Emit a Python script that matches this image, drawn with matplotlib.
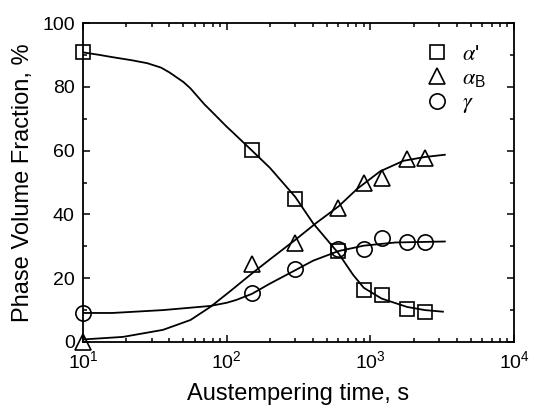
import matplotlib
matplotlib.use('Agg')
import matplotlib.pyplot as plt
from matplotlib.ticker import LogLocator, MultipleLocator
from matplotlib.font_manager import FontProperties

plt.rcParams['font.family'] = ['Liberation Sans', 'DejaVu Sans']
plt.rcParams['mathtext.fontset'] = 'custom'
plt.rcParams['mathtext.rm'] = 'Liberation Sans'

# measured points (time in s, volume fraction in %)
t_pts = [10, 150, 300, 600, 900, 1200, 1800, 2400]
mart_pts = [90.8, 60.2, 44.8, 28.4, 16.4, 14.8, 10.4, 9.5]
bain_pts = [0.0, 24.3, 31.0, 42.0, 50.0, 51.5, 57.4, 57.7]
aust_pts = [9.2, 15.3, 23.0, 29.0, 29.3, 32.5, 31.2, 31.2]

# fitted curves
t_mart = [10, 13, 16, 22, 28, 35, 40, 50, 56, 70, 80, 100, 111, 150, 200, 300,
          400, 600, 760, 900, 1200, 1800, 2400, 3200]
y_mart = [90.8, 90.0, 89.3, 88.3, 87.4, 86.0, 84.5, 81.5, 79.5, 74.5, 71.9, 67.5,
          65.6, 60.0, 54.6, 45.5, 37.2, 27.8, 21.0, 17.0, 13.6, 11.0, 10.0, 9.5]
t_bain = [10, 19, 36, 56, 77, 105, 150, 200, 300, 417, 600, 810, 1170, 1700, 2400, 3300]
y_bain = [0.8, 1.6, 3.8, 6.9, 11.0, 15.8, 21.5, 25.9, 32.0, 37.2, 42.5, 48.0,
          53.5, 56.8, 58.0, 58.7]
t_aust = [10, 16, 36, 77, 100, 117, 150, 200, 300, 400, 600, 900, 1500, 3300]
y_aust = [9.1, 9.1, 10.0, 11.3, 12.3, 13.2, 15.1, 18.3, 22.5, 25.5, 28.5, 30.2, 31.2, 31.5]

fig = plt.figure(figsize=(5.34, 4.12), dpi=100)
ax = fig.add_axes([83/534, 70/412, 431/534, 319/412])

ax.plot(t_mart, y_mart, color='black', lw=1.3)
ax.plot(t_bain, y_bain, color='black', lw=1.3)
ax.plot(t_aust, y_aust, color='black', lw=1.3)

mk = dict(linestyle='none', mfc='none', mec='black', mew=1.2, clip_on=False)
ax.plot(t_pts, mart_pts, marker='s', ms=10, label=r"$\alpha$'", **mk)
ax.plot(t_pts, bain_pts, marker='^', ms=12, label=r"$\alpha_{\mathregular{ B}}$", **mk)
ax.plot(t_pts, aust_pts, marker='o', ms=11, label=r"$\gamma$", **mk)

ax.set_xscale('log')
ax.set_xlim(10, 1e4)
ax.set_ylim(0, 100)
ax.xaxis.set_major_locator(LogLocator(base=10, numticks=10))
ax.xaxis.set_minor_locator(LogLocator(base=10, subs=range(2, 10), numticks=10))
ax.yaxis.set_major_locator(MultipleLocator(20))
ax.yaxis.set_minor_locator(MultipleLocator(10))
ax.tick_params(which='both', direction='in', top=True, right=True, width=1.1,
               labelsize=14, pad=6)
ax.tick_params(which='major', length=5)
ax.tick_params(which='minor', length=3)
for s in ax.spines.values():
    s.set_linewidth(1.3)

ax.set_xlabel('Austempering time, s', fontsize=17, labelpad=8)
ax.set_ylabel('Phase Volume Fraction, %', fontsize=17, labelpad=6)

leg_font = FontProperties(family='Liberation Sans', size=16, math_fontfamily='stix')
ax.legend(loc='upper right', bbox_to_anchor=(0.985, 1.005), frameon=False, prop=leg_font,
          handlelength=1.0, handletextpad=0.6, labelspacing=0.15, borderaxespad=0.6)

fig.savefig('out.png', dpi=100)
